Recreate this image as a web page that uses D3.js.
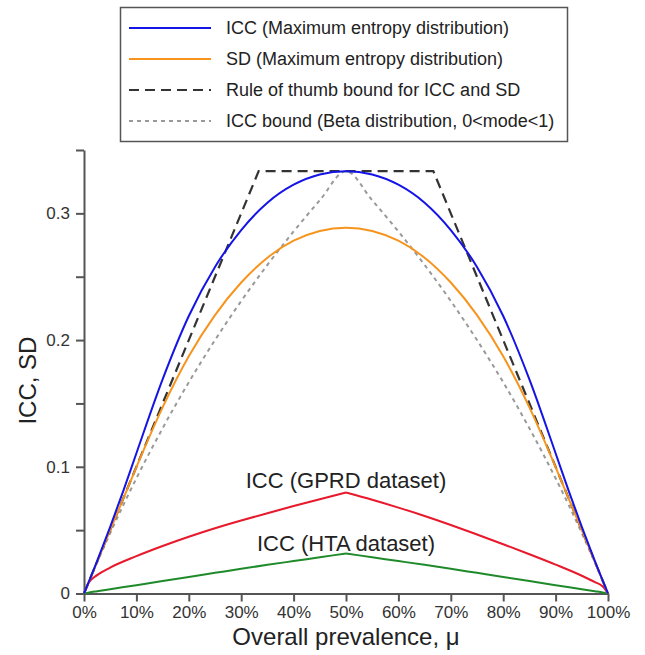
<!DOCTYPE html>
<html>
<head>
<meta charset="utf-8">
<script src="https://cdn.jsdelivr.net/npm/d3@7"></script>
<style>
  body { margin: 0; background: #fff; }
  svg { display: block; font-family: "Liberation Sans", Arial, sans-serif; }
  .axis path, .axis line { stroke: #555; stroke-width: 2; }
  .axis text { fill: #333; font-size: 17px; }
</style>
</head>
<body>
<svg id="chart" width="645" height="655"></svg>
<script>
// prevalence grid (fraction) used for the maximum entropy / bound curves
const mu = [0, 0.025, 0.05, 0.075, 0.1, 0.15, 0.2, 0.25, 0.3, 0.35, 0.4, 0.45, 0.5,
  0.55, 0.6, 0.65, 0.7, 0.75, 0.8, 0.85, 0.9, 0.925, 0.95, 0.975, 1];
const iccMaxEnt = [0, 0.0256, 0.0526, 0.081, 0.1107, 0.169, 0.219, 0.2577, 0.2868, 0.3084, 0.3226, 0.3307, 0.3333,
  0.3307, 0.3226, 0.3084, 0.2868, 0.2577, 0.219, 0.169, 0.1107, 0.081, 0.0526, 0.0256, 0];
const sdMaxEnt = [0, 0.025, 0.05, 0.0749, 0.0998, 0.1469, 0.1872, 0.2197, 0.2454, 0.265, 0.2784, 0.2861, 0.2887,
  0.2861, 0.2784, 0.265, 0.2454, 0.2197, 0.1872, 0.1469, 0.0998, 0.0749, 0.05, 0.025, 0];
const iccBetaBound = [0, 0.0244, 0.0476, 0.0698, 0.0909, 0.1304, 0.1667, 0.2, 0.2308, 0.2593, 0.2857, 0.3103, 0.3333,
  0.3103, 0.2857, 0.2593, 0.2308, 0.2, 0.1667, 0.1304, 0.0909, 0.0698, 0.0476, 0.0244, 0];

// rule of thumb bound (corner points)
const thumbMu = [0, 1 / 3, 2 / 3, 1];
const thumbVal = [0, 1 / 3, 1 / 3, 0];

// dataset ICCs (left and right halves meet at the 50% peak)
const dataMuLeft = [0, 0.01, 0.025, 0.05, 0.1, 0.15, 0.2, 0.25, 0.3, 0.35, 0.4, 0.45, 0.5];
const dataMuRight = [0.5, 0.55, 0.6, 0.65, 0.7, 0.75, 0.8, 0.85, 0.9, 0.95, 0.975, 0.99, 1];
const gprdLeft = [0, 0.009, 0.0145, 0.0205, 0.0295, 0.0375, 0.0448, 0.0515, 0.0576, 0.0634, 0.069, 0.0744, 0.0797];
const gprdRight = [0.0797, 0.074, 0.0678, 0.0612, 0.0541, 0.0466, 0.0389, 0.031, 0.0228, 0.014, 0.009, 0.0055, 0];
const htaLeft = [0, 0.0008, 0.0018, 0.0034, 0.0066, 0.0098, 0.0131, 0.0163, 0.0195, 0.0226, 0.0256, 0.0286, 0.0316];
const htaRight = [0.0316, 0.0286, 0.0256, 0.0226, 0.0195, 0.0163, 0.0131, 0.0098, 0.0066, 0.0034, 0.0018, 0.0008, 0];

const xTicks = [0, 0.1, 0.2, 0.3, 0.4, 0.5, 0.6, 0.7, 0.8, 0.9, 1];
const yMajor = [0, 0.1, 0.2, 0.3];
const yMinor = [0.05, 0.15, 0.25, 0.35];

const legendItems = [
  {label: 'ICC (Maximum entropy distribution)', color: '#1414e6', dash: null, width: 2},
  {label: 'SD (Maximum entropy distribution)', color: '#f7941d', dash: null, width: 2},
  {label: 'Rule of thumb bound for ICC and SD', color: '#333', dash: '10,6', width: 2.2},
  {label: 'ICC bound (Beta distribution, 0<mode<1)', color: '#999', dash: '4,4', width: 2}
];

const svg = d3.select('#chart');
const xScale = d3.scaleLinear().domain([0, 1]).range([84, 608]);
const yScale = d3.scaleLinear().domain([0, 0.35]).range([593.5, 150]);

// axes
const xAxis = d3.axisBottom(xScale)
  .tickValues(xTicks)
  .tickFormat(d3.format('.0%'))
  .tickSize(8)
  .tickSizeOuter(0)
  .tickPadding(4);
svg.append('g').attr('class', 'axis')
  .attr('transform', `translate(0,${yScale(0)})`)
  .call(xAxis);

const yAxis = d3.axisLeft(yScale)
  .tickValues(yMajor)
  .tickFormat(d => d === 0 ? '0' : d3.format('.1f')(d))
  .tickSize(8)
  .tickSizeOuter(0)
  .tickPadding(6);
svg.append('g').attr('class', 'axis')
  .attr('transform', `translate(${xScale(0)},0)`)
  .call(yAxis);

svg.append('g').attr('class', 'axis')
  .attr('transform', `translate(${xScale(0)},0)`)
  .call(d3.axisLeft(yScale).tickValues(yMinor).tickFormat('').tickSize(8).tickSizeOuter(0))
  .select('.domain').remove();

// axis titles
svg.append('text')
  .attr('x', xScale(0.5)).attr('y', 645)
  .attr('text-anchor', 'middle')
  .attr('font-size', 24).attr('fill', '#222')
  .text('Overall prevalence, μ');

svg.append('text')
  .attr('transform', `translate(36,${yScale(0.168)}) rotate(-90)`)
  .attr('text-anchor', 'middle')
  .attr('font-size', 24).attr('fill', '#222')
  .text('ICC, SD');

// curves
const line = (xs, curve) => d3.line()
  .x((d, i) => xScale(xs[i]))
  .y(d => yScale(d))
  .curve(curve);

const plot = svg.append('g');

[[htaLeft, dataMuLeft], [htaRight, dataMuRight]].forEach(([vals, xs]) => {
  plot.append('path').datum(vals)
    .attr('d', line(xs, d3.curveMonotoneX))
    .attr('fill', 'none').attr('stroke', '#1f8a2a').attr('stroke-width', 2);
});

[[gprdLeft, dataMuLeft], [gprdRight, dataMuRight]].forEach(([vals, xs]) => {
  plot.append('path').datum(vals)
    .attr('d', line(xs, d3.curveMonotoneX))
    .attr('fill', 'none').attr('stroke', '#e8192c').attr('stroke-width', 2);
});

plot.append('path').datum(iccBetaBound)
  .attr('d', line(mu, d3.curveMonotoneX))
  .attr('fill', 'none').attr('stroke', legendItems[3].color)
  .attr('stroke-width', 2).attr('stroke-dasharray', legendItems[3].dash);

plot.append('path').datum(thumbVal)
  .attr('d', line(thumbMu, d3.curveLinear))
  .attr('fill', 'none').attr('stroke', legendItems[2].color)
  .attr('stroke-width', 2.2).attr('stroke-dasharray', legendItems[2].dash);

plot.append('path').datum(sdMaxEnt)
  .attr('d', line(mu, d3.curveMonotoneX))
  .attr('fill', 'none').attr('stroke', legendItems[1].color).attr('stroke-width', 2);

plot.append('path').datum(iccMaxEnt)
  .attr('d', line(mu, d3.curveMonotoneX))
  .attr('fill', 'none').attr('stroke', legendItems[0].color).attr('stroke-width', 2);

// curve labels
svg.append('text')
  .attr('x', xScale(0.5)).attr('y', 488)
  .attr('text-anchor', 'middle').attr('font-size', 22).attr('fill', '#222')
  .text('ICC (GPRD dataset)');
svg.append('text')
  .attr('x', xScale(0.5)).attr('y', 551)
  .attr('text-anchor', 'middle').attr('font-size', 22).attr('fill', '#222')
  .text('ICC (HTA dataset)');

// legend
const lg = svg.append('g');
lg.append('rect')
  .attr('x', 120.5).attr('y', 7.5).attr('width', 447).attr('height', 134)
  .attr('fill', '#fff').attr('stroke', '#555').attr('stroke-width', 1.5);

legendItems.forEach((it, i) => {
  const y = 28 + i * 31;
  lg.append('line')
    .attr('x1', 129).attr('x2', 211).attr('y1', y).attr('y2', y)
    .attr('stroke', it.color).attr('stroke-width', it.width)
    .attr('stroke-dasharray', it.dash);
  lg.append('text')
    .attr('x', 226).attr('y', y)
    .attr('dy', '0.35em')
    .attr('font-size', 18).attr('fill', '#222')
    .text(it.label);
});
</script>
</body>
</html>
